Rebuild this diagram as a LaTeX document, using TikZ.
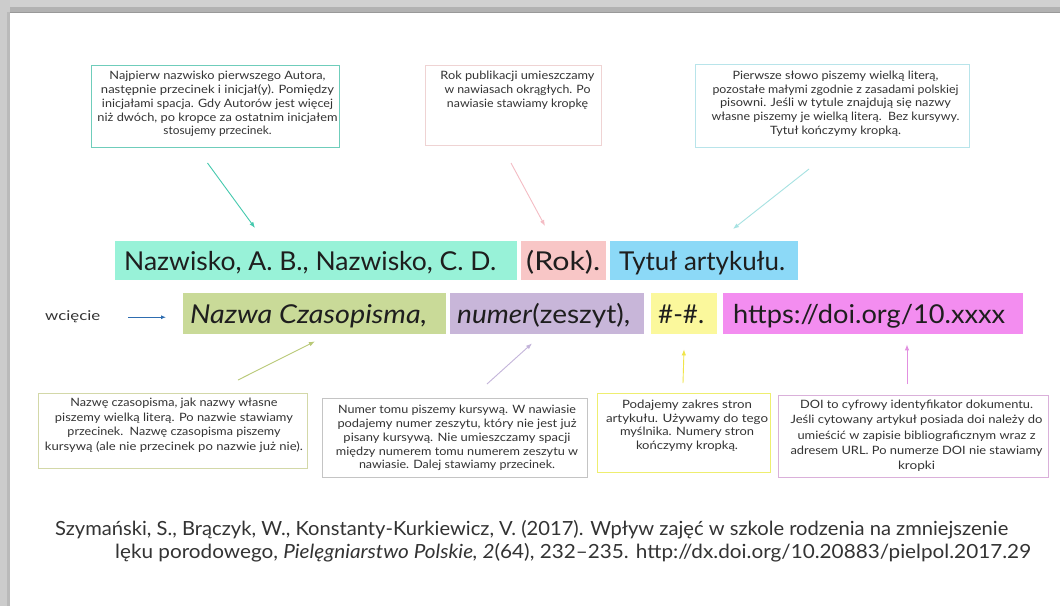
\documentclass[tikz,border=0pt]{standalone}
\usepackage{fontspec}
\setmainfont{Lato}
\usepackage{graphicx}
\usetikzlibrary{arrows.meta,calc}
\definecolor{cNaz}{HTML}{98F2D8}
\definecolor{cRok}{HTML}{F8C6C6}
\definecolor{cTyt}{HTML}{8CD9F7}
\definecolor{cCzas}{HTML}{C9DA98}
\definecolor{cNum}{HTML}{C8B6D9}
\definecolor{cPag}{HTML}{FBF89C}
\definecolor{cDoi}{HTML}{F38DF0}
\definecolor{bNaz}{HTML}{6FCDBB}
\definecolor{bRok}{HTML}{EFD3D3}
\definecolor{bTyt}{HTML}{B8E4EA}
\definecolor{bCzas}{HTML}{D3D8A8}
\definecolor{bNum}{HTML}{C4C4C4}
\definecolor{bPag}{HTML}{EEEE70}
\definecolor{bDoi}{HTML}{DAB0DA}
\definecolor{aNaz}{HTML}{45C9AE}
\definecolor{aRok}{HTML}{F4BCC4}
\definecolor{aTyt}{HTML}{A6E2E2}
\definecolor{aCzas}{HTML}{B9C977}
\definecolor{aNum}{HTML}{C3B4DA}
\definecolor{aPag}{HTML}{F0E54A}
\definecolor{aDoi}{HTML}{E28FE0}
\definecolor{aBlue}{HTML}{2E6DB0}
\definecolor{txtgray}{HTML}{333333}
\definecolor{txtdark}{HTML}{1E1E1E}
\newcommand{\fitw}[2]{\resizebox{#1}{\height}{#2}}
\newcommand{\bl}[2]{\resizebox{#1pt}{\height}{#2}}
\begin{document}
\begin{tikzpicture}[x=1pt,y=-1pt,
  infobox/.style={draw, line width=1pt, fill=white, inner sep=0pt, anchor=north west},
  btext/.style={align=center, font=\fontsize{11.5}{14}\selectfont, text=txtgray, inner sep=0pt, anchor=north},
  stripbox/.style={inner sep=0pt, anchor=north west},
  stext/.style={font=\fontsize{26}{30}\selectfont, text=txtdark, inner sep=0pt, anchor=base west},
  ctext/.style={font=\fontsize{19.5}{22}\selectfont, text=txtgray, inner sep=0pt, anchor=base west},
  conn/.style={line width=0.9pt, -{Latex[length=6pt,width=4.5pt]}}
]
\useasboundingbox (0,0) rectangle (1060,606);
% frame shadow
\fill[white] (0,0) rectangle (1060,606);
\fill[black!18] (0,0) rectangle (1060,12);
\fill[black!30] (0,7) rectangle (1060,12);
\fill[black!20] (0,0) rectangle (10,606);
\fill[black!27] (7,12) rectangle (10,606);
\draw[black!40, line width=0.6pt] (10,12.3) -- (1060,12.3);

% top info boxes
\node[infobox, draw=bNaz, minimum width=248, minimum height=82] (b1) at (91,65) {};
\node[btext, font=\fontsize{11.5}{13.8}\selectfont] (t1) at ($(b1.north)+(2,6)$) {\bl{216}{Najpierw nazwisko pierwszego Autora,}\\\bl{233}{następnie przecinek i inicjał(y). Pomiędzy}\\\bl{231}{inicjałami spacja. Gdy Autorów jest więcej}\\\bl{240}{niż dwóch, po kropce za ostatnim inicjałem}\\\bl{108}{stosujemy przecinek.}};
\node[infobox, draw=bRok, minimum width=176, minimum height=80] (b2) at (425,65) {};
\node[btext] (t2) at ($(b2.north)+(4,6)$) {\bl{154}{Rok publikacji umieszczamy}\\\bl{146}{w nawiasach okrągłych. Po}\\\bl{141}{nawiasie stawiamy kropkę}};
\node[infobox, draw=bTyt, minimum width=274, minimum height=83] (b3) at (695,64) {};
\node[btext, font=\fontsize{11.5}{13.6}\selectfont] (t3) at ($(b3.north)+(3,7)$) {\bl{206}{Pierwsze słowo piszemy wielką literą,}\\\bl{246}{pozostałe małymi zgodnie z zasadami polskiej}\\\bl{231}{pisowni. Jeśli w tytule znajdują się nazwy}\\\bl{248}{własne piszemy je wielką literą.\ \ Bez kursywy.}\\\bl{131}{Tytuł kończymy kropką.}};

% strips row 1
\node[stripbox, fill=cNaz, minimum width=402, minimum height=39] (n1) at (115,241) {};
\node[stext] (n1t) at (124,270) {\fitw{372pt}{Nazwisko, A. B., Nazwisko, C. D.}};
\node[stripbox, fill=cRok, minimum width=85, minimum height=39] (n2) at (521,241) {};
\node[stext] (n2t) at (526,270) {\fitw{74pt}{(Rok).}};
\node[stripbox, fill=cTyt, minimum width=188, minimum height=39] (n3) at (610,241) {};
\node[stext] (n3t) at (619,270) {\fitw{166pt}{Tytuł artykułu.}};

% strips row 2
\node[stripbox, fill=cCzas, minimum width=263, minimum height=41] (m1) at (183,293) {};
\node[stext] (m1t) at (190,323) {\fitw{237pt}{\itshape Nazwa Czasopisma,}};
\node[stripbox, fill=cNum, minimum width=194, minimum height=41] (m2) at (450,293) {};
\node[stext] (m2t) at (457,323) {\fitw{173pt}{\textit{numer}(zeszyt),}};
\node[stripbox, fill=cPag, minimum width=66, minimum height=41] (m3) at (651,293) {};
\node[stext] (m3t) at (658,323) {\fitw{46pt}{\#-\#.}};
\node[stripbox, fill=cDoi, minimum width=300, minimum height=41] (m4) at (723,293) {};
\node[stext] (m4t) at (733,323) {\fitw{272pt}{https://doi.org/10.xxxx}};

% wciecie
\node[font=\fontsize{13.5}{15}\selectfont, text=txtgray, inner sep=0pt, anchor=base west] (w) at (45,320) {\fitw{55pt}{wcięcie}};
\draw[line width=0.9pt, aBlue, -{Latex[length=5pt,width=4pt]}] ($(w.east)+(28,1)$) -- ($(m1.west |- w.east)+(-17,1)$);

% bottom info boxes
\node[infobox, draw=bCzas, minimum width=269, minimum height=75] (b4) at (38,393) {};
\node[btext, font=\fontsize{11.5}{14.6}\selectfont] (t4) at ($(b4.north)+(1,5)$) {\bl{207}{Nazwę czasopisma, jak nazwy własne}\\\bl{238}{piszemy wielką literą. Po nazwie stawiamy}\\\bl{213}{przecinek.\ \ Nazwę czasopisma piszemy}\\\bl{258}{kursywą (ale nie przecinek po nazwie już nie).}};
\node[infobox, draw=bNum, minimum width=265, minimum height=79] (b5) at (322,398) {};
\node[btext, font=\fontsize{11.5}{13.8}\selectfont] (t5) at ($(b5.north)+(2,7)$) {\bl{238}{Numer tomu piszemy kursywą. W nawiasie}\\\bl{239}{podajemy numer zeszytu, który nie jest już}\\\bl{227}{pisany kursywą. Nie umieszczamy spacji}\\\bl{242}{między numerem tomu numerem zeszytu w}\\\bl{196}{nawiasie. Dalej stawiamy przecinek.}};
\node[infobox, draw=bPag, minimum width=173, minimum height=79] (b6) at (597,393) {};
\node[btext, font=\fontsize{11.5}{13.5}\selectfont] (t6) at ($(b6.north)+(3,7)$) {\bl{130}{Podajemy zakres stron}\\\bl{162}{artykułu. Używamy do tego}\\\bl{134}{myślnika. Numery stron}\\\bl{102}{kończymy kropką.}};
\node[infobox, draw=bDoi, minimum width=270, minimum height=82] (b7) at (778,395) {};
\node[btext, font=\fontsize{11.5}{15.2}\selectfont] (t7) at ($(b7.north)+(3,5)$) {\bl{233}{DOI to cyfrowy identyfikator dokumentu.}\\\bl{252}{Jeśli cytowany artykuł posiada doi należy do}\\\bl{238}{umieścić w zapisie bibliograficznym wraz z}\\\bl{252}{adresem URL. Po numerze DOI nie stawiamy}\\\bl{37}{kropki}};

% connectors
\draw[conn, aNaz] ($(b1.south)+(-8,15)$) -- ($(n1.north west)+(140,-13)$);
\draw[conn, aRok] ($(b2.south west)+(86,17)$) -- ($(n2.north west)+(24,-15)$);
\draw[conn, aTyt] ($(b3.south west)+(114,21)$) -- ($(n3.north west)+(123,-12)$);
\draw[conn, aCzas] ($(b4.north west)+(200,-13)$) -- ($(m1.south west)+(132,7)$);
\draw[conn, aNum] ($(b5.north west)+(165,-14)$) -- ($(m2.south west)+(82,9)$);
\draw[conn, aPag] ($(b6.north west)+(86,-10)$) -- ($(m3.south west)+(33,15)$);
\draw[conn, aDoi] ($(b7.north west)+(129,-11)$) -- ($(m4.south west)+(184,10)$);

% citation
\node[ctext] (c1) at (55,535) {\fitw{953pt}{Szymański, S., Brączyk, W., Konstanty-Kurkiewicz, V. (2017). Wpływ zajęć w szkole rodzenia na zmniejszenie}};
\node[ctext] (c2) at (115,558) {\fitw{916pt}{lęku porodowego, \textit{Pielęgniarstwo Polskie, 2}(64), 232–235. http://dx.doi.org/10.20883/pielpol.2017.29}};
\end{tikzpicture}
\end{document}
